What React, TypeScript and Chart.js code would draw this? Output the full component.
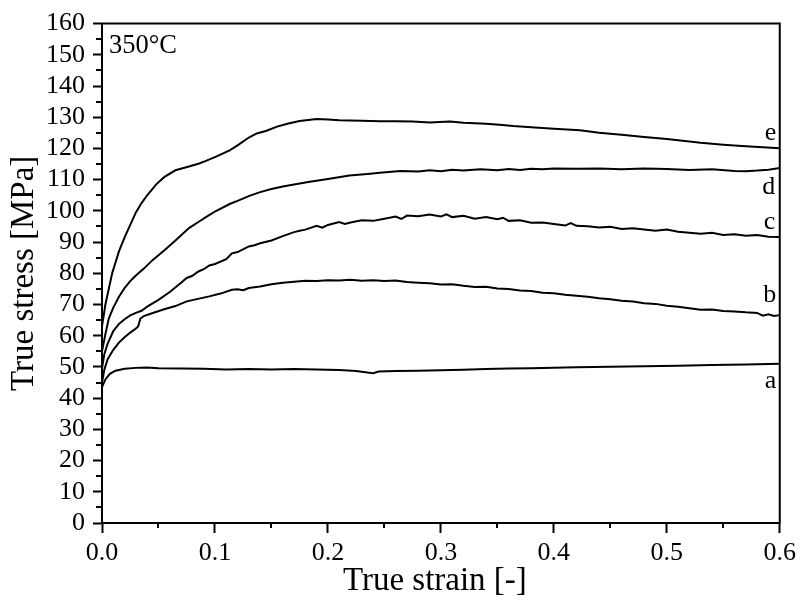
import React, { useEffect, useRef } from "react";
import { Chart, registerables } from "chart.js";

Chart.register(...registerables);

// ---- Data (true strain [-], true stress [MPa]) ----
const strainA = [0, 0.003, 0.007, 0.012, 0.02, 0.03, 0.04, 0.05, 0.07, 0.09, 0.11, 0.13, 0.15, 0.17, 0.19, 0.21, 0.225, 0.235, 0.24, 0.245, 0.26, 0.28, 0.3, 0.32, 0.34, 0.36, 0.38, 0.4, 0.42, 0.45, 0.48, 0.51, 0.54, 0.57, 0.6];
const stressA = [43.5, 46, 47.8, 48.8, 49.4, 49.7, 49.8, 49.6, 49.5, 49.4, 49.2, 49.3, 49.2, 49.3, 49.2, 49.0, 48.7, 48.2, 48.0, 48.5, 48.7, 48.8, 48.9, 49.1, 49.3, 49.5, 49.6, 49.7, 49.9, 50.1, 50.2, 50.4, 50.6, 50.8, 51.0];

const strainB = [0, 0.002, 0.005, 0.01, 0.015, 0.02, 0.025, 0.03, 0.032, 0.034, 0.037, 0.045, 0.055, 0.065, 0.075, 0.085, 0.095, 0.105, 0.115, 0.12, 0.125, 0.13, 0.14, 0.15, 0.16, 0.17, 0.18, 0.19, 0.2, 0.21, 0.22, 0.23, 0.24, 0.25, 0.26, 0.27, 0.28, 0.29, 0.3, 0.31, 0.32, 0.33, 0.34, 0.35, 0.36, 0.37, 0.38, 0.39, 0.4, 0.41, 0.42, 0.43, 0.44, 0.45, 0.46, 0.47, 0.48, 0.49, 0.5, 0.51, 0.52, 0.53, 0.54, 0.55, 0.56, 0.57, 0.58, 0.585, 0.59, 0.595, 0.6];
const stressB = [45, 49, 52.5, 55.5, 57.8, 59.5, 61, 62.3, 63, 65.5, 66.3, 67.3, 68.5, 69.5, 71, 71.8, 72.6, 73.5, 74.7, 74.9, 74.6, 75.3, 75.8, 76.5, 77.0, 77.3, 77.6, 77.5, 77.8, 77.7, 77.9, 77.6, 77.8, 77.5, 77.7, 77.2, 77.0, 76.8, 76.4, 76.5, 76.0, 75.6, 75.7, 75.1, 75.0, 74.5, 74.3, 73.8, 73.6, 73.1, 72.8, 72.5, 72.0, 71.7, 71.2, 71.0, 70.4, 70.2, 69.6, 69.3, 68.8, 68.3, 68.4, 67.9, 67.8, 67.5, 67.3, 66.4, 66.9, 66.3, 66.6];

const strainC = [0, 0.002, 0.005, 0.01, 0.015, 0.02, 0.025, 0.03, 0.035, 0.04, 0.05, 0.06, 0.07, 0.075, 0.08, 0.085, 0.09, 0.095, 0.1, 0.11, 0.115, 0.12, 0.13, 0.135, 0.14, 0.15, 0.16, 0.17, 0.175, 0.18, 0.19, 0.195, 0.2, 0.21, 0.215, 0.22, 0.23, 0.24, 0.25, 0.26, 0.265, 0.27, 0.28, 0.29, 0.3, 0.305, 0.31, 0.32, 0.33, 0.34, 0.35, 0.355, 0.36, 0.37, 0.38, 0.39, 0.4, 0.41, 0.415, 0.42, 0.43, 0.44, 0.45, 0.46, 0.47, 0.48, 0.49, 0.5, 0.51, 0.52, 0.53, 0.54, 0.55, 0.56, 0.57, 0.58, 0.59, 0.6];
const stressC = [49.5, 54, 57.5, 61.5, 63.8, 65.3, 66.5, 67.3, 68, 69.3, 71.5, 74, 77, 78.5, 79.2, 80.5, 81.3, 82.5, 83, 84.5, 86.4, 86.8, 88.6, 89, 89.6, 90.5, 91.9, 93.2, 93.6, 94.0, 95.2, 94.6, 95.5, 96.4, 95.8, 96.3, 97.0, 96.8, 97.5, 98.2, 97.4, 98.5, 98.3, 98.8, 98.2, 98.9, 98.0, 98.4, 97.5, 98.0, 97.3, 97.8, 96.8, 97.0, 96.2, 96.3, 95.8, 95.3, 96.1, 95.2, 95.1, 94.7, 94.9, 94.2, 94.4, 94.0, 93.6, 94.0, 93.3, 93.0, 92.7, 93.0, 92.3, 92.5, 92.0, 92.3, 91.7, 91.6];

const strainD = [0, 0.003, 0.006, 0.01, 0.015, 0.02, 0.025, 0.03, 0.037, 0.045, 0.056, 0.065, 0.077, 0.086, 0.092, 0.1, 0.113, 0.12, 0.131, 0.14, 0.15, 0.16, 0.175, 0.184, 0.2, 0.219, 0.235, 0.246, 0.264, 0.28, 0.29, 0.3, 0.31, 0.32, 0.335, 0.35, 0.36, 0.37, 0.38, 0.39, 0.4, 0.42, 0.44, 0.46, 0.48, 0.5, 0.52, 0.54, 0.56, 0.57, 0.58, 0.59, 0.6];
const stressD = [55, 60.5, 65.5, 69, 72.5, 75.3, 77.5, 79.3, 81.5, 84.3, 87.6, 90.5, 94.5, 96.6, 98.0, 99.8, 102.2, 103.2, 104.9, 106.0, 107.0, 107.8, 108.8, 109.3, 110.2, 111.3, 111.8, 112.2, 112.8, 112.6, 113.0, 112.7, 113.2, 112.9, 113.3, 113.0, 113.4, 113.1, 113.5, 113.3, 113.6, 113.5, 113.6, 113.3, 113.6, 113.4, 113.1, 113.3, 112.8, 112.7, 112.9, 113.2, 113.7];

const strainE = [0, 0.003, 0.006, 0.009, 0.015, 0.02, 0.025, 0.03, 0.035, 0.04, 0.048, 0.055, 0.065, 0.077, 0.086, 0.092, 0.1, 0.113, 0.12, 0.13, 0.137, 0.145, 0.155, 0.165, 0.175, 0.19, 0.2, 0.21, 0.23, 0.246, 0.26, 0.275, 0.29, 0.308, 0.32, 0.34, 0.352, 0.364, 0.38, 0.4, 0.423, 0.44, 0.46, 0.48, 0.5, 0.52, 0.53, 0.55, 0.57, 0.6];
const stressE = [63, 70, 75, 80, 87, 91.5, 95.5, 99.5, 102.5, 105, 108.5, 110.8, 113, 114.2, 115.2, 116, 117.2, 119.4, 121, 123.5, 124.8, 125.6, 127, 128, 128.8, 129.4, 129.3, 129.0, 128.9, 128.7, 128.7, 128.6, 128.3, 128.6, 128.2, 127.9, 127.6, 127.2, 126.8, 126.3, 125.8, 125.0, 124.4, 123.7, 123.0, 122.2, 121.8, 121.2, 120.7, 120.1];

const seriesNames = ["a", "b", "c", "d", "e"];
const seriesStrains = [strainA, strainB, strainC, strainD, strainE];
const seriesStresses = [stressA, stressB, stressC, stressD, stressE];

// curve label anchors (data coordinates, right-aligned text baseline)
const labelStrain = [0.597, 0.597, 0.596, 0.596, 0.597];
const labelStress = [43.2, 70.8, 94.2, 105.4, 122.7];

const xTitle = "True strain [-]";
const yTitle = "True stress [MPa]";
const tempLabel = "350°C";

const FONT = "'Liberation Serif', 'Times New Roman', serif";

export default function App() {
  const ref = useRef<HTMLCanvasElement | null>(null);

  useEffect(() => {
    const canvas = ref.current;
    if (!canvas) return;

    const overlay = {
      id: "overlay",
      afterDraw(chart: any) {
        const ctx = chart.ctx;
        const { left, right, top, bottom } = chart.chartArea;
        const xs = chart.scales.x;
        const ys = chart.scales.y;
        ctx.save();
        ctx.strokeStyle = "#000";
        ctx.lineWidth = 2;
        // top and right frame
        ctx.beginPath();
        ctx.moveTo(left - 1, top);
        ctx.lineTo(right, top);
        ctx.lineTo(right, bottom + 1);
        ctx.stroke();
        // minor ticks
        for (let v = 5; v < 160; v += 10) {
          const py = Math.round(ys.getPixelForValue(v));
          ctx.beginPath();
          ctx.moveTo(left - 6, py);
          ctx.lineTo(left, py);
          ctx.stroke();
        }
        for (let i = 0; i < 6; i++) {
          const v = 0.05 + i * 0.1;
          const px = Math.round(xs.getPixelForValue(v));
          ctx.beginPath();
          ctx.moveTo(px, bottom);
          ctx.lineTo(px, bottom + 5);
          ctx.stroke();
        }
        ctx.fillStyle = "#000";
        // curve labels
        ctx.font = `26px ${FONT}`;
        ctx.textAlign = "right";
        ctx.textBaseline = "alphabetic";
        for (let i = 0; i < seriesNames.length; i++) {
          ctx.fillText(
            seriesNames[i],
            xs.getPixelForValue(labelStrain[i]),
            ys.getPixelForValue(labelStress[i])
          );
        }
        // temperature label
        ctx.textAlign = "left";
        ctx.font = `26.5px ${FONT}`;
        ctx.fillText(tempLabel, left + 7, top + 29);
        // axis titles
        ctx.font = `33px ${FONT}`;
        ctx.textAlign = "center";
        ctx.textBaseline = "middle";
        ctx.fillText(xTitle, (left + right) / 2 - 6, 581);
        ctx.translate(24, (top + bottom) / 2);
        ctx.rotate(-Math.PI / 2);
        ctx.fillText(yTitle, 0, 0);
        ctx.restore();
      },
    };

    const chart = new Chart(canvas, {
      type: "scatter",
      data: {
        datasets: seriesNames.map((n, i) => ({
          label: n,
          data: seriesStrains[i].map((x, j) => ({ x, y: seriesStresses[i][j] })),
          showLine: true,
          borderColor: "#000",
          backgroundColor: "#000",
          borderWidth: 2,
          pointRadius: 0,
          tension: 0,
        })),
      },
      options: {
        responsive: false,
        animation: false,
        events: [],
        layout: { padding: { left: 0, top: 23, right: 21, bottom: 0 } },
        plugins: { legend: { display: false }, tooltip: { enabled: false }, title: { display: false } },
        scales: {
          x: {
            type: "linear",
            min: 0,
            max: 0.6,
            afterFit: (s: any) => {
              s.height = 83;
            },
            border: { display: true, color: "#000", width: 2 },
            grid: { display: true, drawOnChartArea: false, drawTicks: true, tickLength: 10, tickWidth: 2, tickColor: "#000" },
            ticks: {
              stepSize: 0.1,
              autoSkip: false,
              color: "#000",
              padding: 5,
              maxRotation: 0,
              font: { family: FONT, size: 26 },
              callback: (v: any) => Number(v).toFixed(1),
            },
          },
          y: {
            type: "linear",
            min: 0,
            max: 160,
            afterFit: (s: any) => {
              s.width = 102;
            },
            border: { display: true, color: "#000", width: 2 },
            grid: { display: true, drawOnChartArea: false, drawTicks: true, tickLength: 9, tickWidth: 2, tickColor: "#000" },
            ticks: {
              stepSize: 10,
              autoSkip: false,
              color: "#000",
              padding: 8,
              font: { family: FONT, size: 26 },
              callback: (v: any) => String(v),
            },
          },
        },
      },
      plugins: [overlay],
    });

    return () => chart.destroy();
  }, []);

  return (
    <div style={{ position: "fixed", left: 0, top: 0, width: 801, height: 606, background: "#fff" }}>
      <canvas ref={ref} width={801} height={606} style={{ width: 801, height: 606, display: "block" }} />
    </div>
  );
}
